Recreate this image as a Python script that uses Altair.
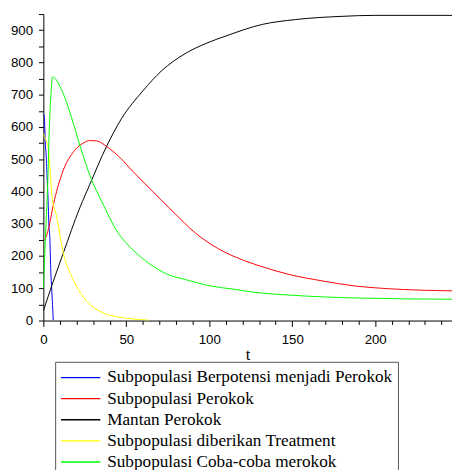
import altair as alt
import pandas as pd

# ---- data ----
series_names = [
    "Subpopulasi Berpotensi menjadi Perokok",
    "Subpopulasi Perokok",
    "Mantan Perokok",
    "Subpopulasi diberikan Treatment",
    "Subpopulasi Coba-coba merokok",
]
series_colors = ["#0000ff", "#ff0000", "#000000", "#ffff00", "#00ff00"]

blue_t = [0, 0.6, 1.2, 1.6, 2.2, 2.8, 3.3, 3.9, 4.5, 5.0, 5.5, 6.0]
blue_v = [640, 630, 545, 520, 450, 380, 300, 255, 150, 100, 50, 0]

red_t = [0, 1.2, 3.1, 6.1, 11, 19, 24, 28, 32, 38, 46, 54, 64, 79, 91, 105,
         120, 130, 148, 168, 188, 207, 247]
red_v = [250, 255, 285, 361, 452, 528, 550, 558, 557, 540, 506, 462, 410, 333,
         274, 224, 188, 170, 143, 123, 107, 99, 92]

black_t = [0, 6, 12, 22, 28, 38, 47, 60, 71, 86, 98, 110, 132, 152, 180, 200,
           247]
black_v = [30, 122, 209, 350, 422, 539, 625, 712, 773, 829, 859, 882, 918,
           933, 943, 946, 946]

yellow_t = [0, 1.5, 3.1, 5.1, 8.1, 12, 17, 25, 35, 45, 54, 64]
yellow_v = [580, 560, 528, 391, 320, 209, 138, 67, 26, 11, 5, 1]

green_t = [0, 0.8, 1.6, 2.6, 3.6, 4.6, 5.5, 11, 17, 22, 29, 35, 45, 54, 64,
           75, 85, 101, 115, 128, 148, 188, 247]
green_v = [100, 200, 300, 420, 600, 700, 755, 715, 629, 543, 437, 371, 272,
           219, 176, 143, 128, 107, 97, 87, 79, 70, 66]

x_ticks = list(range(0, 250, 10))
y_ticks = list(range(0, 951, 50))

rows = []
for name, ts, vs in zip(series_names,
                        [blue_t, red_t, black_t, yellow_t, green_t],
                        [blue_v, red_v, black_v, yellow_v, green_v]):
    for t, v in zip(ts, vs):
        rows.append({"series": name, "t": t, "value": v})
df = pd.DataFrame(rows)

tick_font = "Liberation Sans, Arial, sans-serif"
serif_font = "Liberation Serif, Times New Roman, serif"

chart = alt.Chart(df).mark_line(strokeWidth=1, clip=True, interpolate="monotone").encode(
    x=alt.X(
        "t:Q",
        scale=alt.Scale(domain=[0, 246.3], nice=False, zero=False),
        axis=alt.Axis(
            title="t",
            values=x_ticks,
            labelExpr="datum.value % 50 === 0 ? datum.label : ''",
            tickSize={"condition": {"test": "datum.value % 50 === 0", "value": 6}, "value": 4},
            labelPadding=6,
            titlePadding=1,
        ),
    ),
    y=alt.Y(
        "value:Q",
        scale=alt.Scale(domain=[0, 950], nice=False),
        axis=alt.Axis(
            title=None,
            values=y_ticks,
            labelExpr="datum.value % 100 === 0 ? datum.label : ''",
            tickSize=5,
            labelPadding=6,
        ),
    ),
    color=alt.Color(
        "series:N",
        scale=alt.Scale(domain=series_names, range=series_colors),
        legend=alt.Legend(title=None),
    ),
    order=alt.Order("t:Q"),
).properties(
    width=416,
    height=312,
    autosize=alt.AutoSizeParams(type="none"),
    padding={"left": 36, "top": 2, "right": 0, "bottom": 150},
).configure_view(
    stroke=None,
).configure_axis(
    grid=False,
    domainColor="#000000",
    tickColor="#000000",
    labelColor="#000000",
    labelFont=tick_font,
    labelFontSize=13.5,
    labelFlush=False,
    labelOverlap=False,
    titleFont=serif_font,
    titleFontSize=17,
    titleFontWeight="normal",
    titleColor="#000000",
).configure_legend(
    orient="none",
    legendX=12,
    legendY=354,
    direction="vertical",
    symbolType="M-2,0H2",
    symbolSize=400,
    symbolStrokeWidth=1.3,
    symbolOffset=10,
    labelFont=serif_font,
    labelFontSize=17.5,
    labelColor="#000000",
    labelLimit=0,
    labelOffset=16,
    rowPadding=1.5,
    padding=5,
    strokeColor="#555555",
    fillColor="#ffffff",
)

chart.save("out.html", embed_options={"renderer": "svg", "actions": False})
